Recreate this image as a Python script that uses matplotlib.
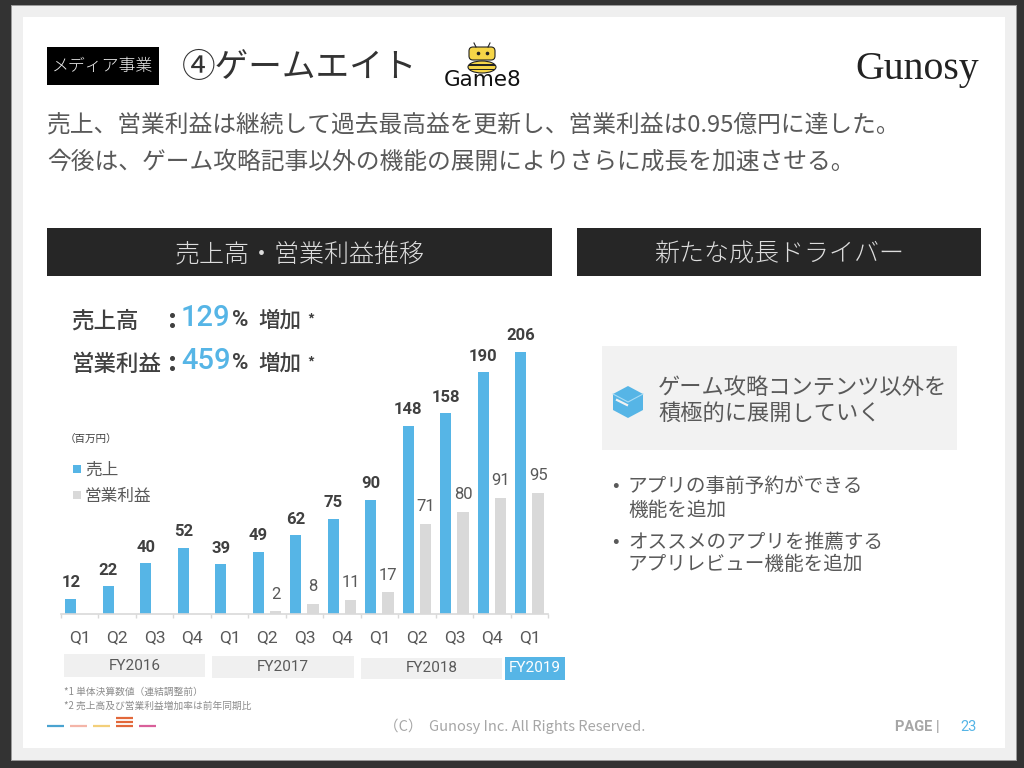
import matplotlib
matplotlib.use('Agg')
import matplotlib.pyplot as plt
from matplotlib.patches import Rectangle, Polygon, Ellipse, FancyBboxPatch
import numpy as np

plt.rcParams['font.family'] = ['Noto Sans CJK JP', 'DejaVu Sans']

quarters = ['Q1', 'Q2', 'Q3', 'Q4', 'Q1', 'Q2', 'Q3', 'Q4', 'Q1', 'Q2', 'Q3', 'Q4', 'Q1']
sales = [12, 22, 40, 52, 39, 49, 62, 75, 90, 148, 158, 190, 206]
profit = [np.nan, np.nan, np.nan, np.nan, np.nan, 2, 8, 11, 17, 71, 80, 91, 95]
fiscal_years = ['FY2016', 'FY2017', 'FY2018', 'FY2019']
fy_boxes = [(64, 654, 205, 677), (212, 656, 354, 678), (361, 658, 502, 679), (505, 657, 565, 680)]

BLUE = '#56b5e6'
GREY = '#d9d9d9'
TEXT = '#595959'
DARK = '#404040'
PANEL = '#262626'

fig = plt.figure(figsize=(10.24, 7.68), dpi=100, facecolor='#333333')

# pixel overlay for the slide furniture
bg = fig.add_axes([0, 0, 1, 1], zorder=0)
bg.set_xlim(0, 1024)
bg.set_ylim(768, 0)
bg.axis('off')


def box(x0, y0, x1, y1, color, ax=bg, **kw):
    ax.add_patch(Rectangle((x0, y0), x1 - x0, y1 - y0, fc=color, ec='none', **kw))


box(11, 5, 1017, 761, '#9a9a9a')
box(12, 6, 1016, 760, '#efefef')
box(23, 17, 1005, 748, '#ffffff')

# header
box(47, 47, 159, 85, '#000000')
bg.text(103, 67, 'メディア事業', color='#eeeeee', fontsize=12.2, ha='center', va='center', fontweight='light')
bg.text(182, 67, '④ゲームエイト', color='#333333', fontsize=24.2, ha='left', va='center')
bg.text(917, 69, 'Gunosy', color='#222222', fontsize=28.6, ha='center', va='center', family='Liberation Serif')

# game8 logo
bg.add_patch(FancyBboxPatch((469, 47), 26, 13, boxstyle='round,pad=0,rounding_size=4', fc='#f5d547', ec='#222222', lw=0.8))
bg.add_patch(Ellipse((482, 67), 28, 12, fc='#f5d547', ec='#222222', lw=0.8))
box(469, 64, 495, 65.5, '#222222')
box(469, 68.5, 495, 70, '#222222')
bg.plot([478, 487], [53, 53], ls='none', marker='o', ms=1.6, color='#222222')
bg.plot([474, 476], [43, 47], color='#222222', lw=0.8)
bg.plot([490, 488], [43, 47], color='#222222', lw=0.8)
bg.text(483, 80, 'Game8', color='#111111', fontsize=15.5, ha='center', va='center', family='DejaVu Sans')

bg.text(47, 125, '売上、営業利益は継続して過去最高益を更新し、営業利益は0.95億円に達した。', color=TEXT, fontsize=17.1, ha='left', va='center')
bg.text(47, 162, '今後は、ゲーム攻略記事以外の機能の展開によりさらに成長を加速させる。', color=TEXT, fontsize=17.1, ha='left', va='center')

box(47, 228, 552, 276, PANEL)
box(577, 228, 981, 276, PANEL)
bg.text(300, 254, '売上高・営業利益推移', color='#dddddd', fontsize=18, ha='center', va='center', fontweight='light')
bg.text(779, 254, '新たな成長ドライバー', color='#dddddd', fontsize=18, ha='center', va='center', fontweight='light')

# KPI lines
for y, label, pct in [(321, '売上高', '129'), (364, '営業利益', '459')]:
    bg.text(71, y, label, color=DARK, fontsize=16.2, ha='left', va='center', fontweight='medium')
    bg.plot([172, 172], [y - 6, y + 4], ls='none', marker='o', ms=2.6, color=DARK)
    bg.text(181, y - 3, pct, color=BLUE, fontsize=21, ha='left', va='center', family='Roboto', fontweight='medium')
    bg.text(232, y - 1, '%', color=DARK, fontsize=16, ha='left', va='center', family='Roboto', fontweight='bold')
    bg.text(258, y, '増加', color=DARK, fontsize=15.5, ha='left', va='center', fontweight='medium')
    bg.text(311, y - 1, '*', color=DARK, fontsize=10, ha='center', va='center', fontweight='bold')

bg.text(65, 439, '（百万円）', color=DARK, fontsize=7.6, ha='left', va='center')
box(73, 465, 81, 473, BLUE)
box(73, 491, 81, 499, GREY)
bg.text(85, 470, '売上', color=TEXT, fontsize=12, ha='left', va='center')
bg.text(85, 496, '営業利益', color=TEXT, fontsize=12, ha='left', va='center')

# fiscal year strip
for name, (x0, y0, x1, y1) in zip(fiscal_years, fy_boxes):
    last = name == 'FY2019'
    box(x0, y0, x1, y1, BLUE if last else '#f0f0f0')
    bg.text((x0 + x1) / 2, (y0 + y1) / 2, name, color='white' if last else TEXT, fontsize=11, ha='center', va='center', family='Roboto')

bg.text(64, 692, '*1 単体決算数値（連結調整前）', color='#8c8c8c', fontsize=7, ha='left', va='center')
bg.text(64, 706, '*2 売上高及び営業利益増加率は前年同期比', color='#8c8c8c', fontsize=7, ha='left', va='center')

# footer
for x0, x1, c in [(47, 64, '#4aa3d0'), (70, 87, '#f4b5a8'), (93, 110, '#f3cf7a'), (139, 156, '#d9609a')]:
    bg.plot([x0, x1], [726, 726], color=c, lw=1.6, solid_capstyle='butt')
for y in [718, 722, 726]:
    bg.plot([116, 133], [y, y], color='#e2683a', lw=1.6, solid_capstyle='butt')
bg.text(515, 726, '（C）  Gunosy Inc. All Rights Reserved.', color='#a6a6a6', fontsize=10.5, ha='center', va='center')
bg.text(895, 727, 'PAGE |', color='#a6a6a6', fontsize=10.5, ha='left', va='center', fontweight='bold', family='Roboto')
bg.text(969, 727, '23', color=BLUE, fontsize=10.5, ha='center', va='center', family='Roboto')

# right hand panel
box(602, 346, 957, 450, '#f2f2f2')
bg.add_patch(Polygon([(628, 386), (643, 394), (643, 410), (628, 418), (613, 410), (613, 394)], fc=BLUE, ec='none'))
bg.plot([613, 628, 643], [394, 402, 394], color='#a9dcf5', lw=0.8)
bg.plot([617, 627], [400, 405], color='#f2f2f2', lw=1.6)
bg.text(658, 387, 'ゲーム攻略コンテンツ以外を', color=TEXT, fontsize=16, ha='left', va='center')
bg.text(658, 413, '積極的に展開していく', color=TEXT, fontsize=16, ha='left', va='center')
bullets = [(486, '•', 'アプリの事前予約ができる'), (510, '', '機能を追加'), (542, '•', 'オススメのアプリを推薦する'), (565, '', 'アプリレビュー機能を追加')]
for y, mark, line in bullets:
    if mark:
        bg.text(615, y, mark, color=TEXT, fontsize=14, ha='center', va='center')
    bg.text(628, y, line, color=TEXT, fontsize=14.1, ha='left', va='center')

# chart
px_per_unit = 1.272
left, right, bottom, top = 60.7, 548.2, 614, 300
ax = fig.add_axes([left / 1024, 1 - bottom / 768, (right - left) / 1024, (bottom - top) / 768], zorder=1)
ax.patch.set_alpha(0)
x = np.arange(len(quarters))
ax.bar(x - 0.23, sales, width=0.30, color=BLUE)
ax.bar(x + 0.23, profit, width=0.30, color=GREY)
ax.set_xlim(-0.5, len(quarters) - 0.5)
ax.set_ylim(0, (bottom - top) / px_per_unit)
for i, v in enumerate(sales):
    ax.annotate(str(v), (i - 0.23, v), xytext=(0, 11.5), textcoords='offset points', ha='center', va='center',
                color=DARK, fontsize=12, fontweight='bold', family='Roboto', annotation_clip=False)
for i, v in enumerate(profit):
    if not np.isnan(v):
        ax.annotate(f'{v:.0f}', (i + 0.23, v), xytext=(0, 12.5), textcoords='offset points', ha='center', va='center',
                    color=TEXT, fontsize=12, family='Roboto')
for s in ['top', 'left', 'right']:
    ax.spines[s].set_visible(False)
ax.spines['bottom'].set_color('#d9d9d9')
ax.spines['bottom'].set_linewidth(1.2)
ax.set_yticks([])
ax.set_xticks(x)
ax.set_xticklabels(quarters, fontsize=12.5, color=TEXT, family='Roboto')
ax.set_xticks(np.arange(len(quarters) + 1) - 0.5, minor=True)
ax.tick_params(axis='x', which='major', length=0, pad=11.5)
ax.tick_params(axis='x', which='minor', length=3, color='#d9d9d9', width=1)

fig.savefig('out.png', dpi=100, facecolor=fig.get_facecolor())
